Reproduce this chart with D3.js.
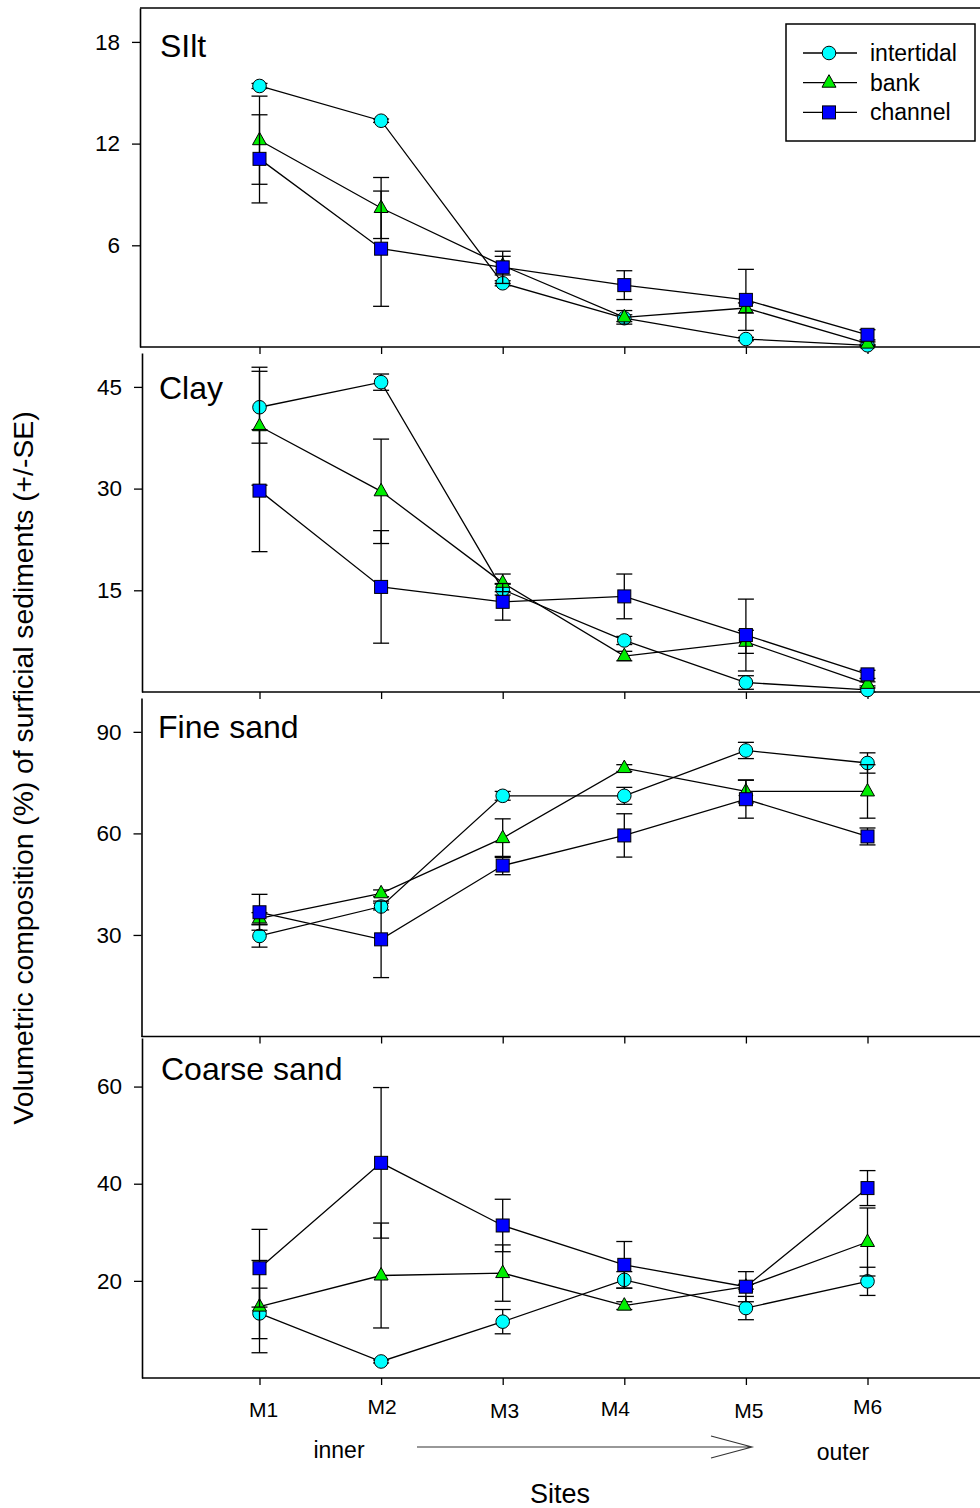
<!DOCTYPE html>
<html>
<head>
<meta charset="utf-8">
<script src="https://cdnjs.cloudflare.com/ajax/libs/d3/7.8.5/d3.min.js"></script>
<style>
  html, body { margin: 0; padding: 0; background: #fff; }
  svg { display: block; font-family: "Liberation Sans", Arial, Helvetica, sans-serif; }
</style>
</head>
<body>
<script>
// Sampling sites, inner to outer
const sites = ["M1", "M2", "M3", "M4", "M5", "M6"];
const seriesNames = ["intertidal", "bank", "channel"];

// Silt (%) — rows: intertidal, bank, channel
const siltMean = [
  [15.4, 13.35, 3.76, 1.7, 0.47, 0.1],
  [12.2, 8.2, 4.8, 1.75, 2.3, 0.2],
  [11.1, 5.8, 4.7, 3.65, 2.78, 0.72]
];
const siltSE = [
  [0.15, 0.1, 0.15, 0.2, 0.1, 0.05],
  [2.6, 1.8, 0.55, 0.4, 0.3, 0.1],
  [2.6, 3.4, 0.95, 0.85, 1.8, 0.3]
];
const siltTicks = [6, 12, 18];

// Clay (%)
const clayMean = [
  [42.0, 45.7, 15.1, 7.6, 1.4, 0.3],
  [39.2, 29.6, 16.1, 5.3, 7.4, 1.2],
  [29.7, 15.5, 13.3, 14.1, 8.4, 2.6]
];
const claySE = [
  [5.3, 1.2, 0.8, 0.6, 1.0, 0.3],
  [8.7, 7.7, 1.3, 0.7, 1.7, 0.3],
  [9.0, 8.3, 2.7, 3.3, 5.3, 0.6]
];
const clayTicks = [15, 30, 45];

// Fine sand (%)
const fineMean = [
  [29.7, 38.4, 71.1, 71.1, 84.5, 80.8],
  [34.9, 42.3, 58.6, 79.3, 72.4, 72.4],
  [36.7, 28.7, 50.5, 59.4, 70.1, 59.1]
];
const fineSE = [
  [3.3, 1.0, 1.3, 2.5, 2.4, 3.0],
  [1.7, 1.0, 5.7, 1.0, 3.4, 7.9],
  [5.3, 11.3, 2.7, 6.4, 5.6, 2.5]
];
const fineTicks = [30, 60, 90];

// Coarse sand (%)
const coarseMean = [
  [13.3, 3.4, 11.6, 20.2, 14.4, 19.9],
  [14.7, 21.1, 21.6, 14.9, 18.8, 28.0],
  [22.6, 44.3, 31.4, 23.3, 18.8, 39.1]
];
const coarseSE = [
  [5.2, 0.3, 2.5, 1.7, 2.4, 2.9],
  [9.5, 10.8, 5.8, 0.8, 0.5, 7.0],
  [8.0, 15.5, 5.4, 4.8, 3.1, 3.6]
];
const coarseTicks = [20, 40, 60];

// Panel layout
const panels = [
  { title: "SIlt",        mean: siltMean,   se: siltSE,   ticks: siltTicks,   yMax: 20,  top: 8,    bottom: 347,    left: 140,   topLine: true,  titleX: 160, titleY: 57 },
  { title: "Clay",        mean: clayMean,   se: claySE,   ticks: clayTicks,   yMax: 50,  top: 353,  bottom: 692,    left: 142,   topLine: false, titleX: 159, titleY: 399 },
  { title: "Fine sand",   mean: fineMean,   se: fineSE,   ticks: fineTicks,   yMax: 100, top: 698,  bottom: 1036.5, left: 141.5, topLine: false, titleX: 158, titleY: 738 },
  { title: "Coarse sand", mean: coarseMean, se: coarseSE, ticks: coarseTicks, yMax: 70,  top: 1038, bottom: 1378,   left: 142,   topLine: false, titleX: 161, titleY: 1080 }
];

const W = 980, H = 1508, rightEdge = 990;
const fills = ["#00ffff", "#00ee00", "#0000ff"];

const svg = d3.select("body").append("svg").attr("width", W).attr("height", H);

const x = d3.scaleLinear().domain([1, 6]).range([259.5, 867.5]);

function marker(g, kind, cx, cy) {
  if (kind === 0) {
    g.append("circle").attr("cx", cx).attr("cy", cy).attr("r", 6.8)
      .attr("fill", fills[0]).attr("stroke", "#000").attr("stroke-width", 1);
  } else if (kind === 1) {
    g.append("path")
      .attr("d", `M${cx},${cy - 8}L${cx + 7},${cy + 4.5}L${cx - 7},${cy + 4.5}Z`)
      .attr("fill", fills[1]).attr("stroke", "#000").attr("stroke-width", 1);
  } else {
    g.append("rect").attr("x", cx - 6.5).attr("y", cy - 6.5).attr("width", 13).attr("height", 13)
      .attr("fill", fills[2]).attr("stroke", "#000").attr("stroke-width", 1);
  }
}

panels.forEach((p, pi) => {
  const y = d3.scaleLinear().domain([0, p.yMax]).range([p.bottom, p.top]);
  const g = svg.append("g");

  // left axis with ticks
  const ax = g.append("g").attr("transform", `translate(${p.left},0)`)
    .call(d3.axisLeft(y).tickValues(p.ticks).tickSize(8).tickPadding(12).tickSizeOuter(0));
  ax.select(".domain").attr("stroke", "#000").attr("stroke-width", 1.6);
  ax.selectAll(".tick line").attr("stroke", "#000").attr("stroke-width", 1.3);
  ax.selectAll(".tick text").attr("font-size", 22.5).attr("fill", "#000")
    .attr("font-family", "Liberation Sans, Arial, sans-serif");

  // bottom axis line and site ticks
  g.append("line").attr("x1", p.left).attr("x2", rightEdge).attr("y1", p.bottom).attr("y2", p.bottom)
    .attr("stroke", "#000").attr("stroke-width", 1.6);
  const bx = g.append("g").attr("transform", `translate(0,${p.bottom})`)
    .call(d3.axisBottom(x).tickValues(d3.range(1, 7)).tickSize(7).tickSizeOuter(0).tickFormat(""));
  bx.select(".domain").remove();
  bx.selectAll(".tick line").attr("stroke", "#000").attr("stroke-width", 1.3);

  if (p.topLine) {
    g.append("line").attr("x1", p.left).attr("x2", rightEdge).attr("y1", p.top).attr("y2", p.top)
      .attr("stroke", "#000").attr("stroke-width", 1.6);
  }

  // panel title
  g.append("text").attr("x", p.titleX).attr("y", p.titleY).attr("font-size", 32).text(p.title);

  // series: line, error bars, symbols
  const line = d3.line().x((d, i) => x(i + 1)).y(d => y(d));
  p.mean.forEach((vals, si) => {
    const sg = g.append("g");
    sg.append("path").attr("d", line(vals)).attr("fill", "none")
      .attr("stroke", "#000").attr("stroke-width", 1.3);
    vals.forEach((v, i) => {
      const e = p.se[si][i];
      const cx = x(i + 1), y1 = y(v + e), y2 = y(Math.max(0, v - e));
      sg.append("line").attr("x1", cx).attr("x2", cx).attr("y1", y1).attr("y2", y2)
        .attr("stroke", "#000").attr("stroke-width", 1.3);
      [y1, y2].forEach(yy => sg.append("line").attr("x1", cx - 8).attr("x2", cx + 8)
        .attr("y1", yy).attr("y2", yy).attr("stroke", "#000").attr("stroke-width", 1.3));
    });
    vals.forEach((v, i) => marker(sg, si, x(i + 1), y(v)));
  });

  // site labels under the last panel
  if (pi === panels.length - 1) {
    const labelNudgeX = [4, 1, 2, -9, 3, 0];
    const labelNudgeY = [0, -3, 1, -1, 1, -3];
    sites.forEach((s, i) => {
      g.append("text").attr("x", x(i + 1) + labelNudgeX[i]).attr("y", 1417 + labelNudgeY[i])
        .attr("text-anchor", "middle").attr("font-size", 21).text(s);
    });
  }
});

// legend
const lg = svg.append("g");
lg.append("rect").attr("x", 786).attr("y", 24).attr("width", 189).attr("height", 117)
  .attr("fill", "#fff").attr("stroke", "#000").attr("stroke-width", 1.5);
seriesNames.forEach((n, i) => {
  const ly = 53 + i * 29.7;
  lg.append("line").attr("x1", 803).attr("x2", 857).attr("y1", ly).attr("y2", ly)
    .attr("stroke", "#000").attr("stroke-width", 1.3);
  marker(lg, i, 829, ly);
  lg.append("text").attr("x", 870).attr("y", ly + 8).attr("font-size", 23).text(n);
});

// direction note and axis titles
svg.append("text").attr("x", 339).attr("y", 1458).attr("text-anchor", "middle").attr("font-size", 23).text("inner");
svg.append("text").attr("x", 843).attr("y", 1460).attr("text-anchor", "middle").attr("font-size", 23).text("outer");
svg.append("path").attr("d", "M417,1447L752,1447M711,1436L752,1447L711,1458")
  .attr("fill", "none").attr("stroke", "#333").attr("stroke-width", 1.1);
svg.append("text").attr("x", 560).attr("y", 1503).attr("text-anchor", "middle").attr("font-size", 27).text("Sites");
svg.append("text").attr("transform", "translate(33,768) rotate(-90)").attr("text-anchor", "middle")
  .attr("font-size", 28.3).text("Volumetric composition (%) of surficial sediments (+/-SE)");
</script>
</body>
</html>
